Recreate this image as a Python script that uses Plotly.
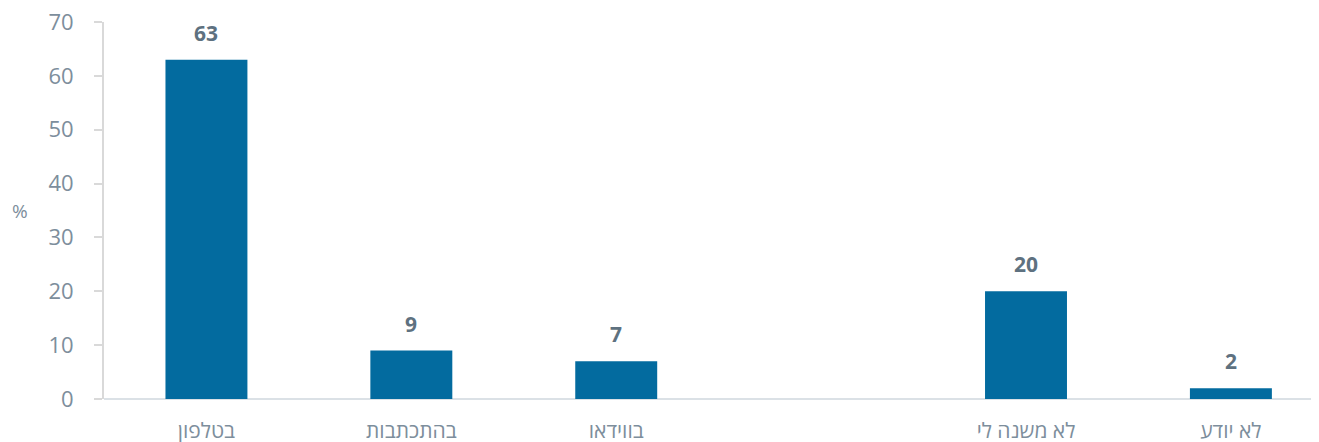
import plotly.graph_objects as go

categories = ["בטלפון", "בהתכתבות", "בווידאו", " ", "לא משנה לי", "לא יודע"]
values = [63, 9, 7, None, 20, 2]
y_ticks = [0, 10, 20, 30, 40, 50, 60, 70]

BAR = "#036b9f"
TICK = "#7d8e9c"
LABEL = "#5e7180"
FONT = "Open Sans"

fig = go.Figure()
fig.add_trace(go.Bar(
    x=categories, y=values, width=0.4,
    marker=dict(color=BAR, line=dict(width=0)),
    hoverinfo="skip",
))

for c, v in zip(categories, values):
    if v is None:
        continue
    fig.add_annotation(
        x=c, y=v, xref="x", yref="y", text=f"<b>{v}</b>",
        showarrow=False, yanchor="middle", yshift=27,
        font=dict(family=FONT, size=21, color=LABEL),
    )

fig.add_annotation(
    xref="paper", yref="paper", x=0, y=0.5, xshift=-84,
    text="%", showarrow=False, xanchor="center", yanchor="middle",
    font=dict(family=FONT, size=19, color=TICK),
)

# page body has an 8px default margin, so the figure is sized to fit the window
fig.update_layout(
    width=1311, height=434,
    margin=dict(l=96, r=0, t=14, b=43),
    paper_bgcolor="white", plot_bgcolor="white",
    showlegend=False,
    bargap=0.6,
    font=dict(family=FONT, size=21, color=TICK),
)
fig.update_xaxes(
    type="category", range=[-0.5, 5.43], automargin=False,
    showline=False, showgrid=False, zeroline=False,
    ticks="outside", ticklen=0, tickcolor="white",
    ticklabelstandoff=13, ticklabeloverflow="allow",
    tickfont=dict(family=FONT, size=21, color=TICK),
)
fig.update_yaxes(
    range=[0, 70], tickvals=y_ticks, ticktext=[str(t) for t in y_ticks],
    automargin=False, ticklabeloverflow="allow",
    showgrid=False, zeroline=True, zerolinecolor="#dbe1e6", zerolinewidth=2,
    showline=True, linecolor="#d9d9d9", linewidth=2,
    ticks="outside", ticklen=8, tickcolor="#d9d9d9", tickwidth=1.5,
    ticklabelstandoff=16,
    tickfont=dict(family=FONT, size=22, color=TICK),
)

fig.write_html("out.html")
